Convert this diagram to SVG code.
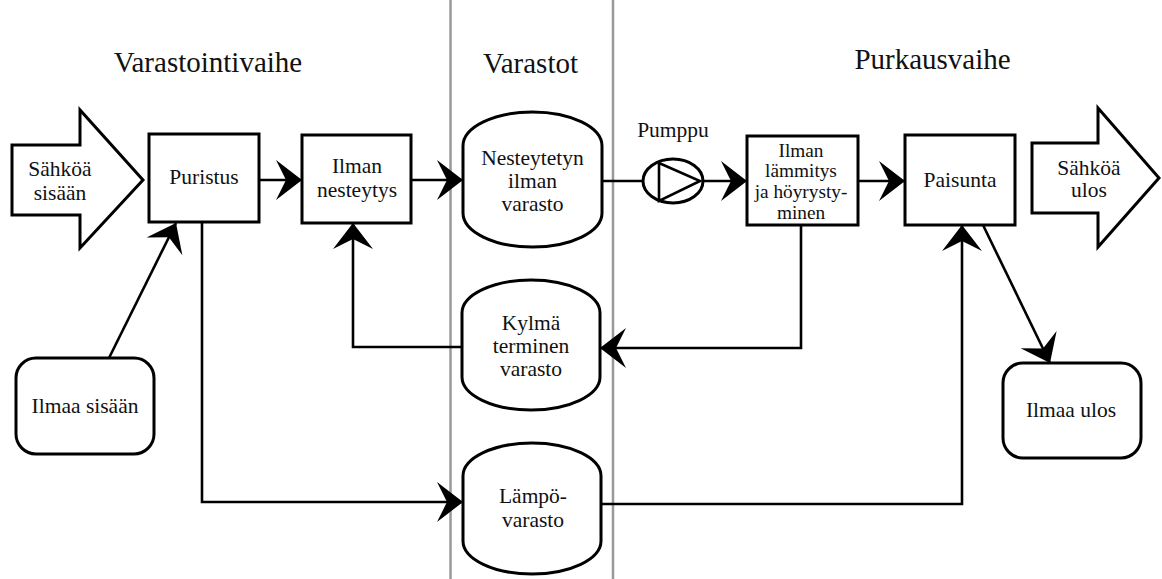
<svg xmlns="http://www.w3.org/2000/svg" width="1162" height="579" viewBox="0 0 1162 579">
<style>
.sh{fill:#fff;stroke:#000;stroke-width:3}
.c{fill:none;stroke:#000;stroke-width:2.6}
.sep{stroke:#999;stroke-width:2.5}
.t{font-size:29px}
.n{font-size:21.5px}
.s{font-size:19.3px}
</style>
<defs>
<marker id="ah" markerUnits="userSpaceOnUse" markerWidth="30" markerHeight="44" viewBox="-28 -22 30 44" refX="0" refY="0" orient="auto">
<path d="M0,0 L-26,-20 L-16,0 L-26,20 Z" fill="#000"/>
</marker>
</defs>
<rect width="1162" height="579" fill="#fff"/>
<g id="separators">
<line class="sep" x1="450.5" y1="0" x2="450.5" y2="579"/>
<line class="sep" x1="613" y1="0" x2="613" y2="579"/>
</g>
<g font-family="'Liberation Serif', 'DejaVu Serif', serif" fill="#111" text-anchor="middle">
<g id="titles">
<text class="t" x="208" y="72">Varastointivaihe</text>
<text class="t" x="530.5" y="73">Varastot</text>
<text class="t" x="932.5" y="69">Purkausvaihe</text>
</g>
</g>
<g id="connectors">
<line class="c" x1="109" y1="358" x2="176" y2="223" marker-end="url(#ah)"/>
<line class="c" x1="259" y1="180" x2="302" y2="180" marker-end="url(#ah)"/>
<line class="c" x1="411" y1="180" x2="463" y2="180" marker-end="url(#ah)"/>
<line class="c" x1="602" y1="181" x2="643" y2="181"/>
<line class="c" x1="703" y1="181" x2="747" y2="181" marker-end="url(#ah)"/>
<line class="c" x1="858" y1="181" x2="905" y2="181" marker-end="url(#ah)"/>
<line class="c" x1="983" y1="225" x2="1050" y2="363" marker-end="url(#ah)"/>
<polyline class="c" points="202,222 202,502 463,502" marker-end="url(#ah)"/>
<polyline class="c" points="801,225 801,348 600,348" marker-end="url(#ah)"/>
<polyline class="c" points="462,347 353,347 353,223" marker-end="url(#ah)"/>
<polyline class="c" points="601,504 962,504 962,225" marker-end="url(#ah)"/>
</g>
<g font-family="'Liberation Serif', 'DejaVu Serif', serif" fill="#111" text-anchor="middle">
<g id="sahkoa-sisaan">
<polygon class="sh" points="12,145 80,145 80,110 143,180 80,248 80,215 12,215"/>
<text class="n" x="60" y="176">Sähköä</text>
<text class="n" x="60" y="200">sisään</text>
</g>
<g id="puristus">
<rect class="sh" x="149" y="134" width="110" height="88"/>
<text class="n" x="204" y="184">Puristus</text>
</g>
<g id="ilman-nesteytys">
<rect class="sh" x="302" y="135" width="109" height="88"/>
<text class="n" x="357" y="173">Ilman</text>
<text class="n" x="357" y="197">nesteytys</text>
</g>
<g id="nesteytetyn-ilman-varasto">
<path class="sh" d="M463,146 A69.5,34 0 0 1 602,146 L602,213 A69.5,34 0 0 1 463,213 Z"/>
<text class="n" x="532.5" y="165">Nesteytetyn</text>
<text class="n" x="532.5" y="188">ilman</text>
<text class="n" x="532.5" y="211">varasto</text>
</g>
<g id="pumppu">
<ellipse class="sh" cx="673" cy="181" rx="30" ry="22"/>
<polygon fill="none" stroke="#000" stroke-width="2.6" points="659,163 700,181 659,201"/>
<text class="n" x="673" y="137">Pumppu</text>
</g>
<g id="ilman-lammitys">
<rect class="sh" x="747" y="136" width="111" height="89"/>
<text class="s" x="801" y="157">Ilman</text>
<text class="s" x="801" y="177">lämmitys</text>
<text class="s" x="801" y="198">ja höyrysty-</text>
<text class="s" x="801" y="219">minen</text>
</g>
<g id="paisunta">
<rect class="sh" x="905" y="135" width="110" height="90"/>
<text class="n" x="960" y="187">Paisunta</text>
</g>
<g id="sahkoa-ulos">
<polygon class="sh" points="1032,143 1098,143 1098,108 1159,178 1098,247 1098,213 1032,213"/>
<text class="n" x="1089" y="175">Sähköä</text>
<text class="n" x="1089" y="197">ulos</text>
</g>
<g id="ilmaa-sisaan">
<rect class="sh" x="16" y="358" width="138" height="96" rx="20"/>
<text class="n" x="85" y="413">Ilmaa sisään</text>
</g>
<g id="kylma-terminen-varasto">
<path class="sh" d="M462,313 A69,33 0 0 1 600,313 L600,377 A69,33 0 0 1 462,377 Z"/>
<text class="n" x="531" y="330">Kylmä</text>
<text class="n" x="531" y="353">terminen</text>
<text class="n" x="531" y="376">varasto</text>
</g>
<g id="lampovarasto">
<path class="sh" d="M463,476 A69,33 0 0 1 601,476 L601,541 A69,33 0 0 1 463,541 Z"/>
<text class="n" x="533" y="503">Lämpö-</text>
<text class="n" x="533" y="527">varasto</text>
</g>
<g id="ilmaa-ulos">
<rect class="sh" x="1003" y="363" width="138" height="95" rx="20"/>
<text class="n" x="1071" y="417">Ilmaa ulos</text>
</g>
</g>
</svg>
